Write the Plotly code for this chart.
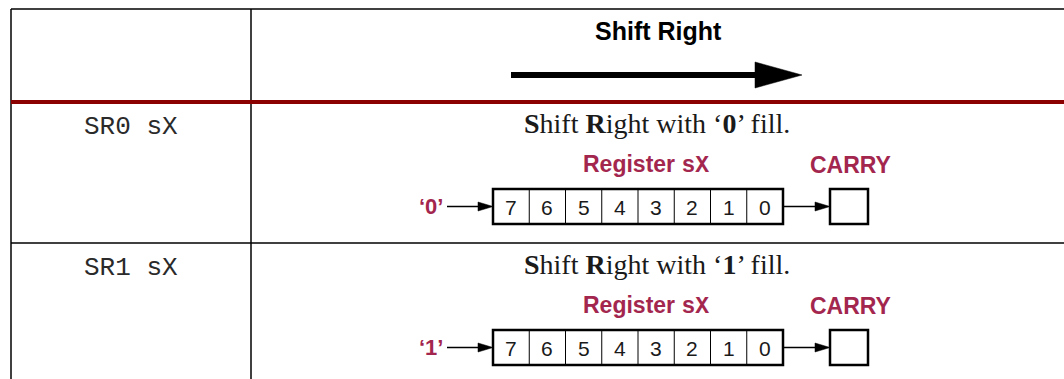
import plotly.graph_objects as go

# ---- content ----
header_title = "Shift Right"
instructions = ["SR0 sX", "SR1 sX"]
fill_values = ["0", "1"]
bit_labels = ["7", "6", "5", "4", "3", "2", "1", "0"]
register_name = "Register"
register_sym = "sX"
carry_label = "CARRY"

W, H = 1064, 379
MAGENTA = "#A3264E"
DARKRED = "#8B0000"
INK = "#1a1a1a"

fig = go.Figure()
fig.add_trace(go.Scatter(x=[0, W], y=[0, H], mode="markers",
                         marker=dict(opacity=0), hoverinfo="skip"))

shapes = []
ann = []

def line(x0, y0, x1, y1, w=1.5, c="black"):
    shapes.append(dict(type="line", x0=x0, y0=y0, x1=x1, y1=y1,
                       line=dict(color=c, width=w), layer="above"))

def tri(xtip, y, length, half, c="black"):
    shapes.append(dict(type="path",
                       path=f"M {xtip},{y} L {xtip-length},{y-half} L {xtip-length},{y+half} Z",
                       fillcolor=c, line=dict(color=c, width=0.5), layer="above"))

def text(x, y, s, size, family, color=INK, xanchor="center"):
    ann.append(dict(x=x, y=y, xref="x", yref="y", text=s, showarrow=False,
                    xanchor=xanchor, yanchor="middle",
                    font=dict(size=size, family=family, color=color)))

SANS = "Liberation Sans, Arial, sans-serif"

# ---- table grid ----
LEFT, COL, TOP = 11, 251, 9
line(LEFT, TOP, W, TOP, 1.5)
line(LEFT, TOP, LEFT, H, 1.5)
line(COL, TOP, COL, H, 1.5)
row_tops = [102, 243]
line(LEFT, row_tops[0], W, row_tops[0], 4, DARKRED)
line(LEFT, row_tops[1], W, row_tops[1], 1.5)

# ---- header ----
text(658, 31, f"<b>{header_title}</b>", 25, SANS, "black")
line(511, 75, 760, 75, 6)
tri(802, 75, 47, 13)

# ---- rows ----
cell_x0, cell_w, ncell = 493, 36.25, len(bit_labels)
carry_x0, carry_x1 = 830, 868
for i, (instr, fv) in enumerate(zip(instructions, fill_values)):
    off = row_tops[i] - row_tops[0]
    text(131, 127 + off, instr, 26, "Liberation Mono, Courier New, monospace", "#2a2a2a")
    desc = f"<b>S</b>hift <b>R</b>ight with \u2018<b>{fv}</b>\u2019 fill."
    text(657, 123 + off, desc, 28, "Liberation Serif, Times New Roman, serif", INK)
    text(646, 165 + off,
         f"<b>{register_name} </b><span style=\"font-family:'Liberation Mono',monospace;font-weight:bold\">{register_sym}</span>",
         23, SANS, MAGENTA)
    text(850, 165 + off, f"<b>{carry_label}</b>", 23, SANS, MAGENTA)
    by0, by1 = 189 + off, 224 + off
    ym = (by0 + by1) / 2
    text(445, ym, f"<b>\u2018{fv}\u2019</b>", 22, SANS, MAGENTA, "right")
    line(447, ym, 480, ym, 1.5)
    tri(493, ym, 15, 4.5)
    for k, b in enumerate(bit_labels):
        cx0 = cell_x0 + k * cell_w
        if k > 0:
            line(cx0, by0, cx0, by1, 1)
        text(cx0 + cell_w / 2, ym + 1, b, 21, SANS, INK)
    shapes.append(dict(type="rect", x0=cell_x0, y0=by0, x1=cell_x0 + ncell * cell_w, y1=by1,
                       line=dict(color="black", width=2.5), layer="above"))
    line(cell_x0 + ncell * cell_w, ym, 817, ym, 1.5)
    tri(carry_x0, ym, 15, 4.5)
    shapes.append(dict(type="rect", x0=carry_x0, y0=by0, x1=carry_x1, y1=by1,
                       line=dict(color="black", width=2.5), layer="above"))

fig.update_layout(
    width=W, height=H, margin=dict(l=0, r=0, t=0, b=0),
    paper_bgcolor="white", plot_bgcolor="white", showlegend=False,
    xaxis=dict(range=[0, W], visible=False, fixedrange=True),
    yaxis=dict(range=[H, 0], visible=False, fixedrange=True),
    shapes=shapes, annotations=ann,
)
fig.write_html("out.html", config={"displayModeBar": False},
               post_script="document.body.style.margin='0';document.body.style.overflow='hidden';")
